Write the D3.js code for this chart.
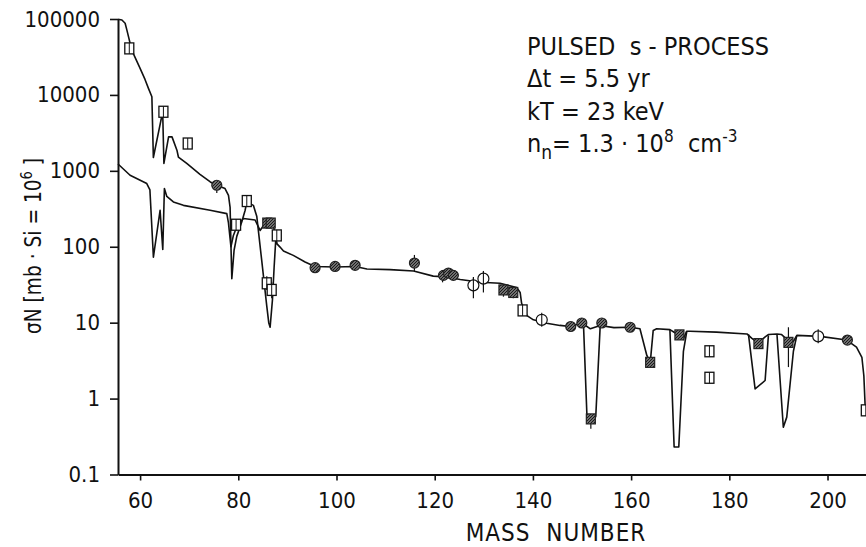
<!DOCTYPE html>
<html>
<head>
<meta charset="utf-8">
<script src="https://cdn.jsdelivr.net/npm/d3@7"></script>
<style>
  body { margin: 0; background: #fff; }
  svg { display: block; }
  text { font-family: "DejaVu Sans Condensed", "Liberation Sans Narrow", "DejaVu Sans", sans-serif; fill: #111; }
</style>
</head>
<body>
<div class="canvas"></div>
<script>
'use strict';

var X_TICKS = [60, 80, 100, 120, 140, 160, 180, 200];
var Y_TICKS = [0.1, 1, 10, 100, 1000, 10000, 100000];
var Y_TICK_LABELS = ['0.1', '1', '10', '100', '1000', '10000', '100000'];

// main sigma*N curve [mass, value]
var upperCurve = [
  [55.5, 99000], [56.3, 97000], [56.95, 88000], [57.3, 72000], [58.3, 39000], [60.0, 22400],
  [61.0, 16000], [61.7, 12200], [62.4, 9440], [62.7, 1500], [63.9, 3600], [64.6, 6000],
  [64.85, 1250], [65.8, 2800], [66.5, 2800], [67.5, 1870], [67.8, 1520], [69.5, 1250],
  [72.2, 900], [74.3, 714], [75.6, 646], [77.3, 584], [78.0, 475], [78.33, 330], [78.53, 90],
  [78.68, 38], [79.14, 90], [79.69, 137], [80.7, 212], [81.38, 300], [81.73, 390], [83.07, 351],
  [83.77, 250], [84.78, 65], [85.8, 16.5], [86.2, 10], [86.48, 8.7], [86.95, 19.8], [87.29, 53],
  [87.64, 127], [87.84, 110], [88.5, 99], [89.2, 88], [91.2, 77], [93.6, 63], [95.6, 55],
  [99.7, 54], [103.8, 55], [106.2, 51], [110.9, 50], [115.7, 48], [119.7, 41], [122.5, 40],
  [125.2, 37], [129.3, 34], [133.3, 33], [136.7, 29], [137.4, 25], [137.7, 18], [138.8, 12.4],
  [140.1, 10.9], [142.8, 9.8], [145.5, 9.2], [147.6, 8.9], [150.0, 9.9], [151.7, 8.3],
  [153.7, 9.2], [156.5, 8.6], [159.8, 8.7], [161.8, 8.3], [163.2, 3.7], [163.9, 3.0],
  [164.5, 7.9], [165.2, 8.3], [167.9, 8.1], [169.0, 7.3], [169.84, 6.9], [170.6, 6.0],
  [171.3, 7.7], [172.0, 7.7], [177.4, 7.5], [183.6, 7.1], [184.6, 6.2], [185.9, 5.4],
  [187.3, 6.5], [188.0, 7.0], [189.7, 7.1], [190.6, 7.0], [192.0, 5.8], [193.0, 5.6],
  [193.75, 6.8], [198.5, 6.6], [203.9, 5.9], [205.9, 4.75], [207.0, 3.5], [207.4, 2.0],
  [207.7, 0.7]
];

// lower branch below A = 88
var lowerCurve = [
  [55.5, 1230], [57.96, 875], [61.36, 680], [62.0, 560], [62.71, 73], [64.07, 302],
  [64.62, 92], [64.95, 585], [65.44, 460], [66.78, 389], [68.82, 351], [74.26, 302],
  [77.66, 273], [77.98, 210], [78.5, 100], [79.0, 141], [79.69, 183], [81.04, 235],
  [83.42, 225], [84.44, 164], [85.11, 190], [87.15, 190], [87.64, 130], [87.84, 110]
];

// deep dips that leave the main curve
var dipBranches = [
  [[150.3, 9.5], [151.0, 0.6], [152.0, 0.52], [152.8, 0.58], [153.7, 9.0]],
  [[167.9, 8.1], [168.76, 0.23], [169.71, 0.23], [170.65, 4.2], [171.34, 7.7]],
  [[183.9, 7.0], [185.25, 1.34], [187.29, 1.73], [187.96, 6.8]],
  [[189.7, 7.1], [191.0, 0.42], [191.7, 0.57], [193.05, 4.2], [193.75, 6.8]]
];

var openSquares = [
  [57.8, 41000], [64.75, 6000], [69.7, 2290], [79.55, 195], [81.73, 400], [87.84, 141],
  [85.8, 33], [86.8, 27], [137.9, 14.5], [175.95, 4.2], [175.95, 1.88], [207.8, 0.7]
];
var filledCircles = [
  [75.62, 646], [95.64, 53], [99.71, 55], [103.79, 57], [115.87, 61], [121.78, 42],
  [122.8, 45], [123.8, 42], [147.7, 8.9], [149.96, 9.9], [154.03, 9.9], [159.8, 8.7],
  [204.05, 5.9]
];
var filledSquares = [
  [85.9, 205], [86.6, 205], [134.0, 27], [136.0, 25], [151.8, 0.54], [163.88, 3.0],
  [169.84, 6.9], [185.93, 5.3], [192.04, 5.5]
];
var openCircles = [[127.88, 31], [129.92, 38], [141.8, 10.9], [198.1, 6.6]];
// [mass, low, high]
var errorBars = [
  [75.62, 510, 750], [85.8, 27, 41], [86.8, 21, 34], [115.87, 48, 78], [121.6, 34, 45],
  [127.88, 21, 40], [129.92, 25, 48], [134.0, 22, 30], [136.0, 21, 28], [151.8, 0.4, 0.6],
  [163.88, 2.6, 3.4], [192.04, 2.6, 8.7]
];

var WIDTH = 866, HEIGHT = 547;

var svg = d3.select('.canvas').append('svg')
  .attr('width', WIDTH)
  .attr('height', HEIGHT);

var defs = svg.append('defs');
var hatch = defs.append('pattern')
  .attr('id', 'hatch')
  .attr('patternUnits', 'userSpaceOnUse')
  .attr('width', 3)
  .attr('height', 3);
hatch.append('rect').attr('width', 3).attr('height', 3).attr('fill', '#6e6e6e');
hatch.append('path')
  .attr('d', 'M-1,1 l2,-2 M0,3 l3,-3 M2,4 l2,-2')
  .attr('stroke', '#1a1a1a')
  .attr('stroke-width', 1);

var x = d3.scaleLinear().domain([55.5, 208]).range([118, 866.8]);
var y = d3.scaleLog().domain([0.1, 100000]).range([474.5, 19]);

// axes
var xAxis = svg.append('g')
  .attr('transform', 'translate(0,474.5)')
  .call(d3.axisBottom(x).tickValues(X_TICKS).tickSize(6).tickSizeOuter(0).tickPadding(12));
var yAxis = svg.append('g')
  .attr('transform', 'translate(118,0)')
  .call(d3.axisLeft(y).tickValues(Y_TICKS)
    .tickFormat(function(d, i) { return Y_TICK_LABELS[i]; })
    .tickSize(8).tickSizeOuter(0).tickPadding(10));

[xAxis, yAxis].forEach(function(g) {
  g.select('.domain').attr('stroke', '#111').attr('stroke-width', 2);
  g.selectAll('.tick line').attr('stroke', '#111').attr('stroke-width', 1.6);
  g.selectAll('.tick text')
    .attr('fill', '#111')
    .style('font-size', '22px')
    .style('font-family', null);
});

// curves
var line = d3.line()
  .x(function(d) { return x(d[0]); })
  .y(function(d) { return y(d[1]); });

var curves = svg.append('g')
  .attr('fill', 'none')
  .attr('stroke', '#111')
  .attr('stroke-width', 1.6)
  .attr('stroke-linejoin', 'round');

curves.selectAll('path')
  .data([upperCurve, lowerCurve].concat(dipBranches))
  .enter()
  .append('path')
  .attr('d', line);

// error bars
svg.append('g')
  .selectAll('line')
  .data(errorBars)
  .enter()
  .append('line')
  .attr('x1', function(d) { return x(d[0]); })
  .attr('x2', function(d) { return x(d[0]); })
  .attr('y1', function(d) { return y(d[1]); })
  .attr('y2', function(d) { return y(d[2]); })
  .attr('stroke', '#111')
  .attr('stroke-width', 1.2);

var marks = svg.append('g');

// open squares with a centre bar
var sq = marks.selectAll('g.open-square')
  .data(openSquares)
  .enter()
  .append('g')
  .classed('open-square', true)
  .attr('transform', function(d) { return 'translate(' + x(d[0]) + ',' + y(d[1]) + ')'; });
sq.append('rect')
  .attr('x', -4.5).attr('y', -5.5).attr('width', 9).attr('height', 11)
  .attr('fill', '#fff').attr('stroke', '#111').attr('stroke-width', 1.3);
sq.append('line')
  .attr('x1', 0).attr('x2', 0).attr('y1', -5.5).attr('y2', 5.5)
  .attr('stroke', '#111').attr('stroke-width', 1);

marks.selectAll('circle.filled')
  .data(filledCircles)
  .enter()
  .append('circle')
  .classed('filled', true)
  .attr('cx', function(d) { return x(d[0]); })
  .attr('cy', function(d) { return y(d[1]); })
  .attr('r', 5)
  .attr('fill', 'url(#hatch)')
  .attr('stroke', '#222')
  .attr('stroke-width', 1.2);

marks.selectAll('rect.filled')
  .data(filledSquares)
  .enter()
  .append('rect')
  .classed('filled', true)
  .attr('x', function(d) { return x(d[0]) - 4.5; })
  .attr('y', function(d) { return y(d[1]) - 5; })
  .attr('width', 9)
  .attr('height', 10)
  .attr('fill', 'url(#hatch)')
  .attr('stroke', '#222')
  .attr('stroke-width', 1.2);

var oc = marks.selectAll('g.open-circle')
  .data(openCircles)
  .enter()
  .append('g')
  .classed('open-circle', true)
  .attr('transform', function(d) { return 'translate(' + x(d[0]) + ',' + y(d[1]) + ')'; });
oc.append('circle')
  .attr('r', 5.5)
  .attr('fill', '#fff').attr('stroke', '#111').attr('stroke-width', 1.2);
oc.append('line')
  .attr('x1', 0).attr('x2', 0).attr('y1', -7).attr('y2', 7)
  .attr('stroke', '#111').attr('stroke-width', 1.1);

// axis titles
svg.append('text')
  .attr('x', 556)
  .attr('y', 541)
  .attr('text-anchor', 'middle')
  .style('font-size', '24px')
  .style('letter-spacing', '1px')
  .style('white-space', 'pre')
  .text('MASS  NUMBER');

// tall, narrow lettering like the original
var yTitle = svg.append('text')
  .attr('transform', 'translate(41,246) rotate(-90)')
  .attr('text-anchor', 'middle')
  .attr('textLength', 176)
  .attr('lengthAdjust', 'spacingAndGlyphs')
  .style('font-size', '23px');
yTitle.append('tspan').text('σN [mb · Si = 10');
yTitle.append('tspan').attr('dy', -9).style('font-size', '16px').text('6');
yTitle.append('tspan').attr('dy', 9).text(' ]');

// annotation block
var note = svg.append('g')
  .attr('transform', 'translate(527,0)')
  .style('font-size', '25px');
note.append('text').attr('y', 55).style('white-space', 'pre').text('PULSED  s - PROCESS');
note.append('text').attr('y', 87).text('Δt = 5.5 yr');
note.append('text').attr('y', 120).text('kT = 23 keV');
var nn = note.append('text').attr('y', 152).style('white-space', 'pre');
nn.append('tspan').text('n');
nn.append('tspan').attr('dy', 7).style('font-size', '19px').text('n');
nn.append('tspan').attr('dy', -7).text('= 1.3 · 10');
nn.append('tspan').attr('dy', -10).style('font-size', '17px').text('8');
nn.append('tspan').attr('dy', 10).text('  cm');
nn.append('tspan').attr('dy', -10).style('font-size', '17px').text('-3');
</script>
</body>
</html>
